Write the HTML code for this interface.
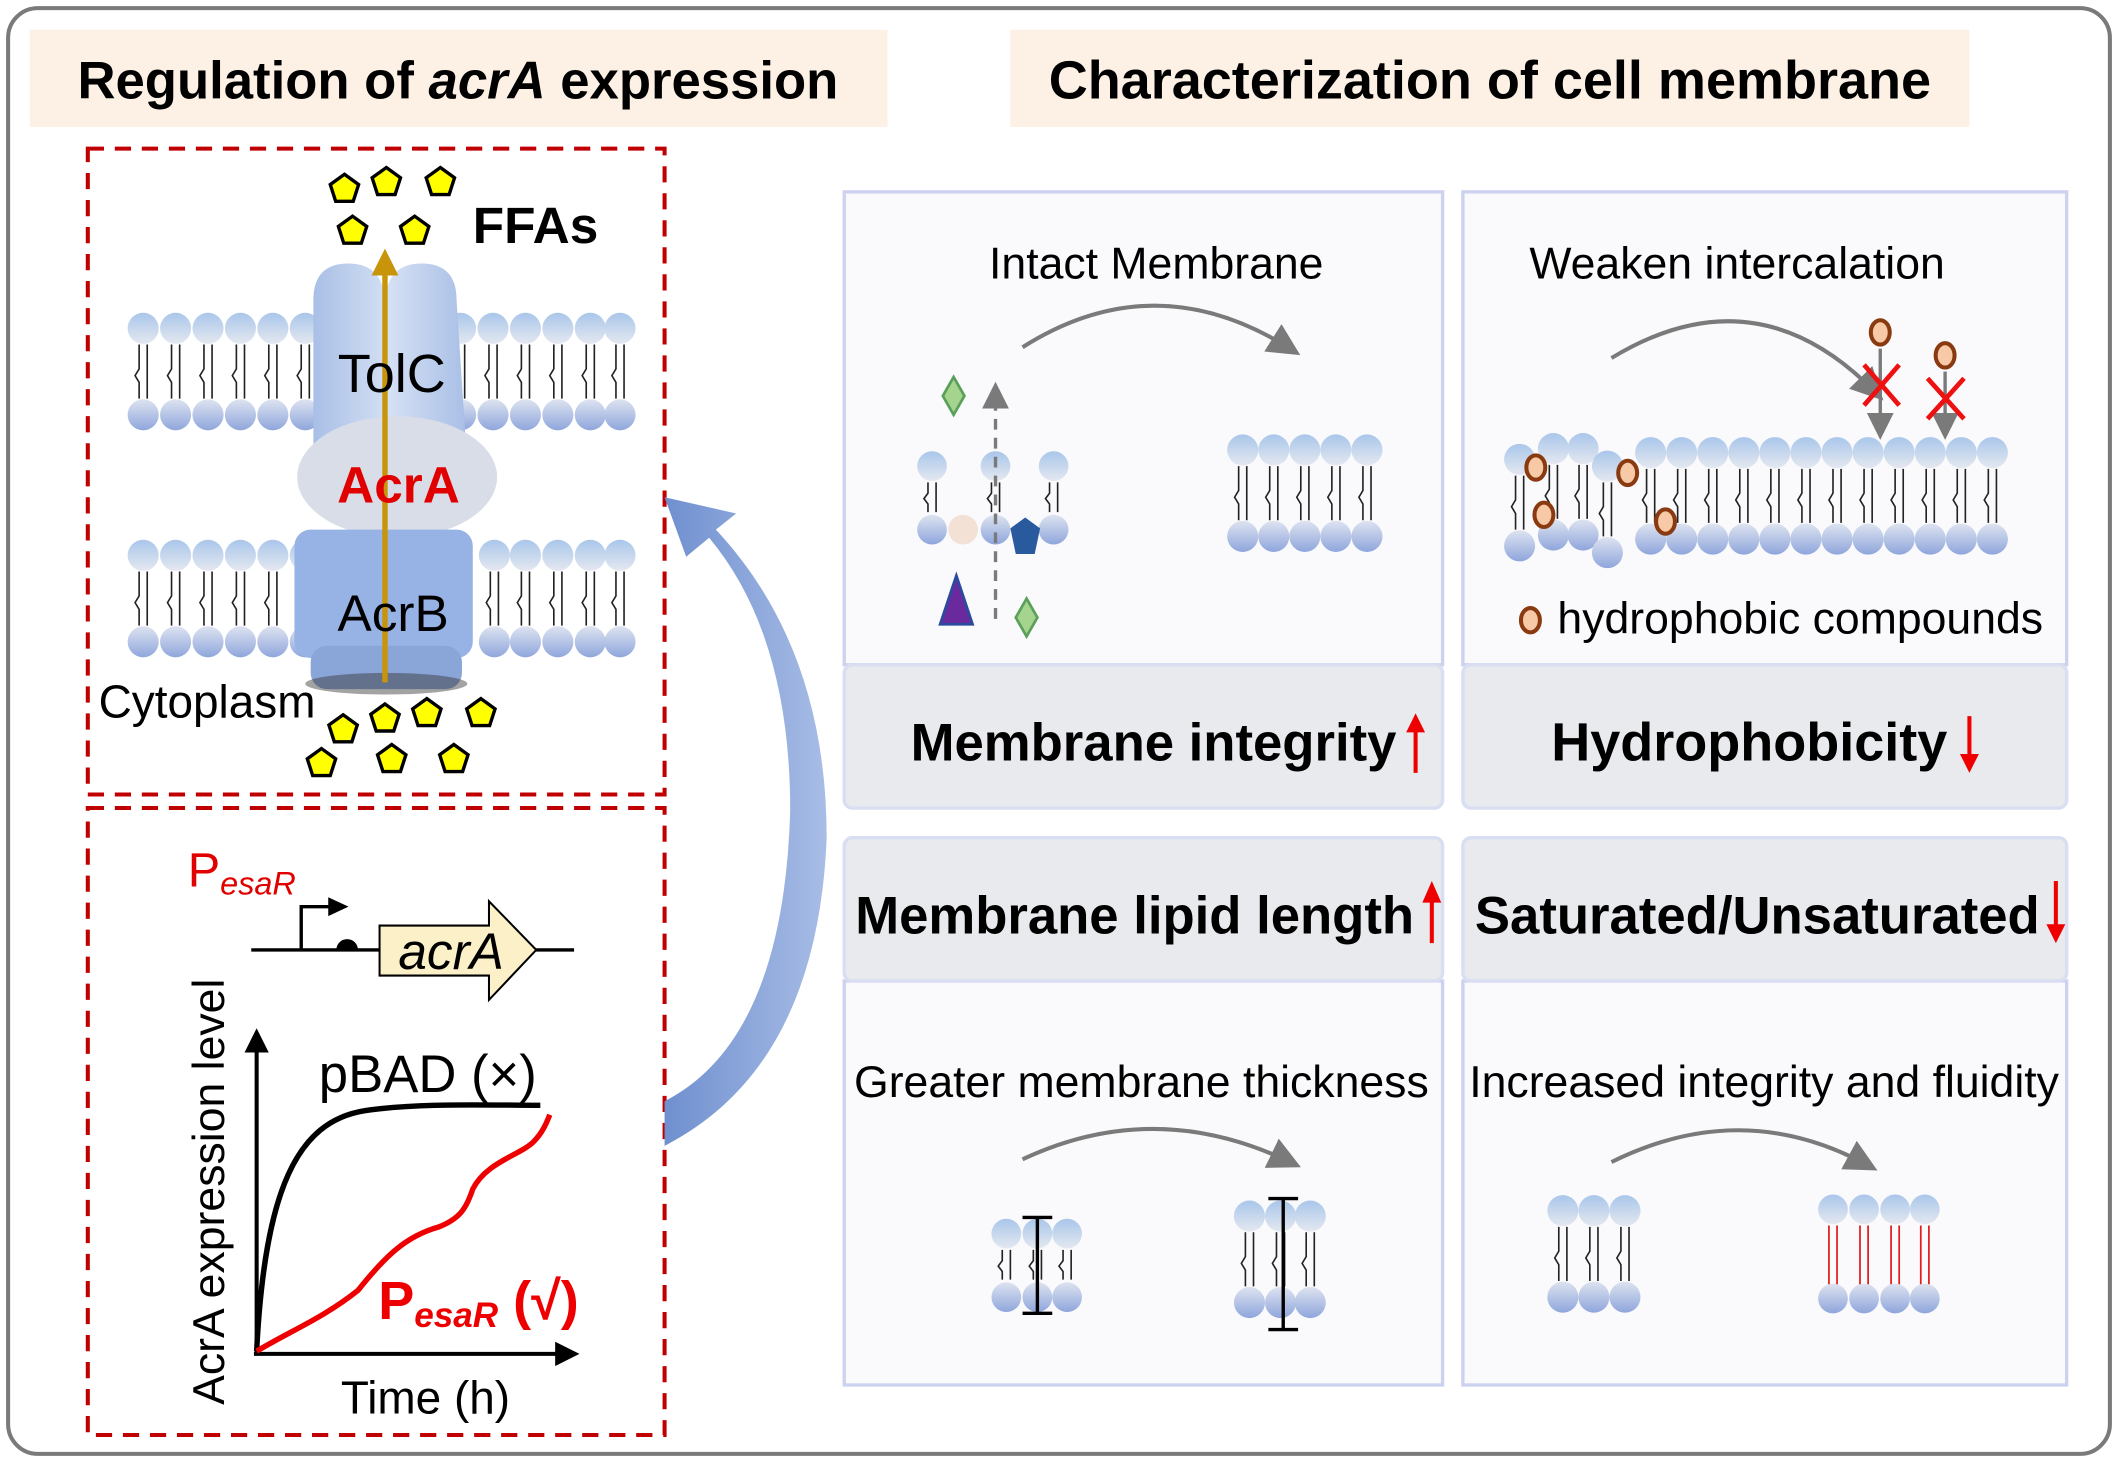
<!DOCTYPE html>
<html><head><meta charset="utf-8"><style>html,body{margin:0;padding:0;background:#fff}svg{display:block}text{font-family:"Liberation Sans",Arial,sans-serif}</style></head>
<body>
<svg width="2118" height="1462" viewBox="0 0 1568 1082" preserveAspectRatio="none" xmlns="http://www.w3.org/2000/svg">
<defs>
<linearGradient id="gt" x1="0" y1="0" x2="0" y2="1"><stop offset="0" stop-color="#a9c6ea"/><stop offset="1" stop-color="#e4e8f0"/></linearGradient>
<linearGradient id="gb" x1="0" y1="0" x2="0" y2="1"><stop offset="0" stop-color="#dde3f0"/><stop offset="1" stop-color="#8fa6dc"/></linearGradient>
<linearGradient id="tol" x1="0" y1="0" x2="1" y2="0"><stop offset="0" stop-color="#a9bfe6"/><stop offset=".5" stop-color="#d4e0f4"/><stop offset="1" stop-color="#a9bfe6"/></linearGradient>
<linearGradient id="big" x1="0" y1="0" x2="1" y2="0"><stop offset="0" stop-color="#6f8fcf"/><stop offset="1" stop-color="#a8bde6"/></linearGradient>
<g id="lp64"><circle cx="0" cy="0" r="11.5" fill="url(#gt)"/><path d="M-3,12 v18 l-3,5 l3,5 v12 M3,12 v40" stroke="#222" stroke-width="1.2" fill="none"/><circle cx="0" cy="64" r="11.5" fill="url(#gb)"/></g>
<g id="lp45"><circle cx="0" cy="0" r="11" fill="url(#gt)"/><path d="M-3,12 v8 l-3,4 l3,4 v6 M3,12 v22" stroke="#222" stroke-width="1.2" fill="none"/><circle cx="0" cy="47" r="11" fill="url(#gb)"/></g>
<g id="lp68r"><circle cx="0" cy="0" r="11" fill="url(#gt)"/><path d="M-3,12 v44 M3,12 v44" stroke="#e02020" stroke-width="1.3" fill="none"/><circle cx="0" cy="66" r="11" fill="url(#gb)"/></g>
<polygon id="pent" points="0,-11 10.5,-3.4 6.5,9 -6.5,9 -10.5,-3.4" fill="#ffff00" stroke="#000" stroke-width="2.5"/>
<marker id="ga" markerWidth="8" markerHeight="8" refX="5" refY="4" orient="auto" markerUnits="strokeWidth"><path d="M0,0 L8,4 L0,8 Z" fill="#7a7a7a"/></marker>
<marker id="ka" markerWidth="6" markerHeight="6" refX="3" refY="3" orient="auto" markerUnits="strokeWidth"><path d="M0,0 L6,3 L0,6 Z" fill="#000"/></marker>
<marker id="oa" markerWidth="5" markerHeight="5" refX="2" refY="2.5" orient="auto" markerUnits="strokeWidth"><path d="M0,0 L5,2.5 L0,5 Z" fill="#c8950a"/></marker>
</defs>

<rect x="6" y="6" width="1556" height="1070" rx="22" fill="#fff" stroke="#7a7a7a" stroke-width="3"/>
<rect x="22" y="22" width="635" height="72" fill="#fdf0e4"/>
<text x="339" y="73" font-size="39" font-weight="bold" text-anchor="middle">Regulation of <tspan font-style="italic">acrA</tspan> expression</text>
<rect x="748" y="22" width="710" height="72" fill="#fdf0e4"/>
<text x="1103" y="73" font-size="40" font-weight="bold" text-anchor="middle">Characterization of cell membrane</text>

<!-- Left box 1 -->
<rect x="65" y="110" width="427" height="478" fill="none" stroke="#c00000" stroke-width="3" stroke-dasharray="12,8"/>
<g>
<use href="#lp64" x="106" y="243"/><use href="#lp64" x="130" y="243"/><use href="#lp64" x="154" y="243"/><use href="#lp64" x="178" y="243"/><use href="#lp64" x="202" y="243"/><use href="#lp64" x="226" y="243"/>
<use href="#lp64" x="341" y="243"/><use href="#lp64" x="365" y="243"/><use href="#lp64" x="389" y="243"/><use href="#lp64" x="413" y="243"/><use href="#lp64" x="437" y="243"/><use href="#lp64" x="459" y="243"/>
<use href="#lp64" x="106" y="411"/><use href="#lp64" x="130" y="411"/><use href="#lp64" x="154" y="411"/><use href="#lp64" x="178" y="411"/><use href="#lp64" x="202" y="411"/><use href="#lp64" x="226" y="411"/>
<use href="#lp64" x="366" y="411"/><use href="#lp64" x="389" y="411"/><use href="#lp64" x="413" y="411"/><use href="#lp64" x="437" y="411"/><use href="#lp64" x="459" y="411"/>
</g>
<path d="M232,330 L232,222 Q232,195 258,195 Q283,195 285,222 Q287,195 312,195 Q338,195 338,222 L345,330 Z" fill="url(#tol)"/>
<ellipse cx="294" cy="353" rx="74" ry="45" fill="#d8dde7"/>
<rect x="218" y="392" width="132" height="95" rx="12" fill="#97b2e4"/>
<rect x="230" y="478" width="112" height="32" rx="12" fill="#8aa5d8"/>
<ellipse cx="286" cy="506" rx="60" ry="8" fill="#333" opacity=".45"/>
<line x1="285" y1="505" x2="285" y2="196" stroke="#c8950a" stroke-width="4" marker-end="url(#oa)"/>
<text x="290" y="290" font-size="40" text-anchor="middle">TolC</text>
<text x="295" y="372" font-size="38" font-weight="bold" fill="#e00000" text-anchor="middle">AcrA</text>
<text x="291" y="467" font-size="38" text-anchor="middle">AcrB</text>
<text x="350" y="180" font-size="38" font-weight="bold">FFAs</text>
<use href="#pent" x="255" y="140"/><use href="#pent" x="286" y="135"/><use href="#pent" x="326" y="135"/><use href="#pent" x="261" y="171"/><use href="#pent" x="307" y="171"/>
<use href="#pent" x="254" y="540"/><use href="#pent" x="285" y="532"/><use href="#pent" x="316" y="528"/><use href="#pent" x="356" y="528"/><use href="#pent" x="238" y="565"/><use href="#pent" x="290" y="562"/><use href="#pent" x="336" y="562"/>
<text x="73" y="531" font-size="34">Cytoplasm</text>

<!-- Left box 2 -->
<rect x="65" y="598" width="427" height="464" fill="none" stroke="#c00000" stroke-width="3" stroke-dasharray="12,8"/>
<text x="139" y="656" font-size="36" fill="#e00000">P<tspan font-size="24" font-style="italic" dy="6">esaR</tspan></text>
<line x1="186" y1="703" x2="425" y2="703" stroke="#000" stroke-width="2.5"/>
<path d="M223,703 V671 H245" stroke="#000" stroke-width="2.5" fill="none"/>
<path d="M243,664 L258,671 L243,678 Z" fill="#000"/>
<path d="M249,703 A8,8 0 0 1 265,703 Z" fill="#000"/>
<path d="M281,685 H362 V667 L397,703 L362,740 V722 H281 Z" fill="#fbf0c8" stroke="#000" stroke-width="1.5"/>
<text x="334" y="717" font-size="38" font-style="italic" text-anchor="middle">acrA</text>
<line x1="190" y1="1002" x2="190" y2="770" stroke="#000" stroke-width="3" marker-end="url(#ka)"/>
<line x1="188" y1="1002" x2="420" y2="1002" stroke="#000" stroke-width="3" marker-end="url(#ka)"/>
<text transform="translate(166,882) rotate(-90)" font-size="33" text-anchor="middle">AcrA expression level</text>
<text x="315" y="1046" font-size="34" text-anchor="middle">Time (h)</text>
<text x="236" y="808" font-size="39">pBAD (×)</text>
<path d="M190,1000 C196,880 220,830 270,822 C310,816 360,818 400,818" stroke="#000" stroke-width="4" fill="none"/>
<path d="M190,1000 C215,985 240,975 265,955 C285,930 300,915 325,908 C340,902 345,895 350,880 C360,860 385,855 395,845 C402,838 405,830 407,825" stroke="#ee0000" stroke-width="4" fill="none"/>
<text x="280" y="976" font-size="40" font-weight="bold" fill="#ee0000">P<tspan font-size="26" font-style="italic" dy="6">esaR</tspan><tspan dy="-6"> (√)</tspan></text>

<!-- big blue arrow -->
<path d="M492,848 L492,815 Q580,770 585,600 Q585,470 525,398 L508,412 L492,368 L545,380 L530,392 Q612,480 612,620 Q605,790 492,848 Z" fill="url(#big)"/>

<!-- right panels -->
<g fill="#fafafc" stroke="#cdd3ef" stroke-width="2.5">
<rect x="625" y="142" width="443" height="350"/><rect x="1083" y="142" width="447" height="350"/>
<rect x="625" y="726" width="443" height="299"/><rect x="1083" y="726" width="447" height="299"/>
</g>
<g fill="#e8eaee" stroke="#d9def2" stroke-width="2.5">
<rect x="625" y="492" width="443" height="106" rx="6"/><rect x="1083" y="492" width="447" height="106" rx="6"/>
<rect x="625" y="620" width="443" height="106" rx="6"/><rect x="1083" y="620" width="447" height="106" rx="6"/>
</g>
<text x="856" y="206" font-size="33" text-anchor="middle">Intact Membrane</text>
<path d="M757,257 Q855,195 955,258" stroke="#7a7a7a" stroke-width="3" fill="none" marker-end="url(#ga)"/>
<use href="#lp45" x="690" y="345"/><use href="#lp45" x="737" y="345"/><use href="#lp45" x="780" y="345"/>
<circle cx="713" cy="392" r="11" fill="#f3e1d6"/>
<polygon points="759,383 770,391 766,410 752,410 748,391" fill="#2a5a9e"/>
<line x1="737" y1="458" x2="737" y2="290" stroke="#7a7a7a" stroke-width="2.5" stroke-dasharray="8,6" marker-end="url(#ga)"/>
<polygon points="706,279 714,293 706,307 698,293" fill="#a4d48e" stroke="#5aa05a" stroke-width="2"/>
<polygon points="760,443 768,457 760,471 752,457" fill="#a4d48e" stroke="#5aa05a" stroke-width="2"/>
<polygon points="708,426 720,462 696,462" fill="#6a2a9e" stroke="#2a4a9e" stroke-width="2"/>
<use href="#lp64" x="920" y="333"/><use href="#lp64" x="943" y="333"/><use href="#lp64" x="966" y="333"/><use href="#lp64" x="989" y="333"/><use href="#lp64" x="1012" y="333"/>

<text x="1286" y="206" font-size="33" text-anchor="middle">Weaken intercalation</text>
<path d="M1193,265 Q1300,200 1388,290" stroke="#7a7a7a" stroke-width="3" fill="none" marker-end="url(#ga)"/>
<g>
<use href="#lp64" x="1125" y="340"/><use href="#lp64" x="1150" y="332"/><use href="#lp64" x="1172" y="332"/><use href="#lp64" x="1190" y="345"/>
<use href="#lp64" x="1222" y="335"/><use href="#lp64" x="1245" y="335"/><use href="#lp64" x="1268" y="335"/><use href="#lp64" x="1291" y="335"/><use href="#lp64" x="1314" y="335"/><use href="#lp64" x="1337" y="335"/><use href="#lp64" x="1360" y="335"/><use href="#lp64" x="1383" y="335"/><use href="#lp64" x="1406" y="335"/><use href="#lp64" x="1429" y="335"/><use href="#lp64" x="1452" y="335"/><use href="#lp64" x="1475" y="335"/>
</g>
<g fill="#f8c9a6" stroke="#8a3a10" stroke-width="3">
<ellipse cx="1137" cy="346" rx="7" ry="9"/><ellipse cx="1205" cy="350" rx="7" ry="9"/><ellipse cx="1143" cy="381" rx="7" ry="9"/><ellipse cx="1233" cy="386" rx="7" ry="9"/>
<ellipse cx="1392" cy="246" rx="7" ry="9"/><ellipse cx="1440" cy="263" rx="7" ry="9"/><ellipse cx="1133" cy="459" rx="7" ry="9"/>
</g>
<line x1="1392" y1="258" x2="1392" y2="318" stroke="#7a7a7a" stroke-width="2.5" marker-end="url(#ga)"/>
<line x1="1440" y1="275" x2="1440" y2="318" stroke="#7a7a7a" stroke-width="2.5" marker-end="url(#ga)"/>
<path d="M1380,270 L1406,300 M1406,270 L1380,300 M1427,280 L1454,310 M1454,280 L1427,310" stroke="#ee1111" stroke-width="3.5"/>
<text x="1153" y="469" font-size="33">hydrophobic compounds</text>

<text x="854" y="563" font-size="39" font-weight="bold" text-anchor="middle">Membrane integrity</text>
<line x1="1048" y1="572" x2="1048" y2="540" stroke="#ee0000" stroke-width="3"/><path d="M1041,542 L1048,528 L1055,542 Z" fill="#ee0000"/>
<text x="1295" y="563" font-size="40" font-weight="bold" text-anchor="middle">Hydrophobicity</text>
<line x1="1458" y1="530" x2="1458" y2="560" stroke="#ee0000" stroke-width="3"/><path d="M1451,558 L1458,572 L1465,558 Z" fill="#ee0000"/>
<text x="840" y="691" font-size="39" font-weight="bold" text-anchor="middle">Membrane lipid length</text>
<line x1="1060" y1="698" x2="1060" y2="666" stroke="#ee0000" stroke-width="3"/><path d="M1053,668 L1060,652 L1067,668 Z" fill="#ee0000"/>
<text x="1301" y="691" font-size="39" font-weight="bold" text-anchor="middle">Saturated/Unsaturated</text>
<line x1="1522" y1="652" x2="1522" y2="686" stroke="#ee0000" stroke-width="3"/><path d="M1515,684 L1522,698 L1529,684 Z" fill="#ee0000"/>

<text x="845" y="812" font-size="33" text-anchor="middle">Greater membrane thickness</text>
<path d="M757,858 Q855,812 955,860" stroke="#7a7a7a" stroke-width="3" fill="none" marker-end="url(#ga)"/>
<use href="#lp45" x="745" y="913"/><use href="#lp45" x="768" y="913"/><use href="#lp45" x="790" y="913"/>
<path d="M757,901 H779 M768,901 V972 M757,972 H779" stroke="#000" stroke-width="2.5"/>
<use href="#lp64" x="925" y="900"/><use href="#lp64" x="948" y="900"/><use href="#lp64" x="970" y="900"/>
<path d="M939,887 H961 M950,887 V984 M939,984 H961" stroke="#000" stroke-width="2.5"/>

<text x="1306" y="812" font-size="33" text-anchor="middle">Increased integrity and fluidity</text>
<path d="M1193,860 Q1290,812 1382,862" stroke="#7a7a7a" stroke-width="3" fill="none" marker-end="url(#ga)"/>
<use href="#lp64" x="1157" y="896"/><use href="#lp64" x="1180" y="896"/><use href="#lp64" x="1203" y="896"/>
<use href="#lp68r" x="1357" y="895"/><use href="#lp68r" x="1380" y="895"/><use href="#lp68r" x="1403" y="895"/><use href="#lp68r" x="1425" y="895"/>
</svg>
</body></html>
